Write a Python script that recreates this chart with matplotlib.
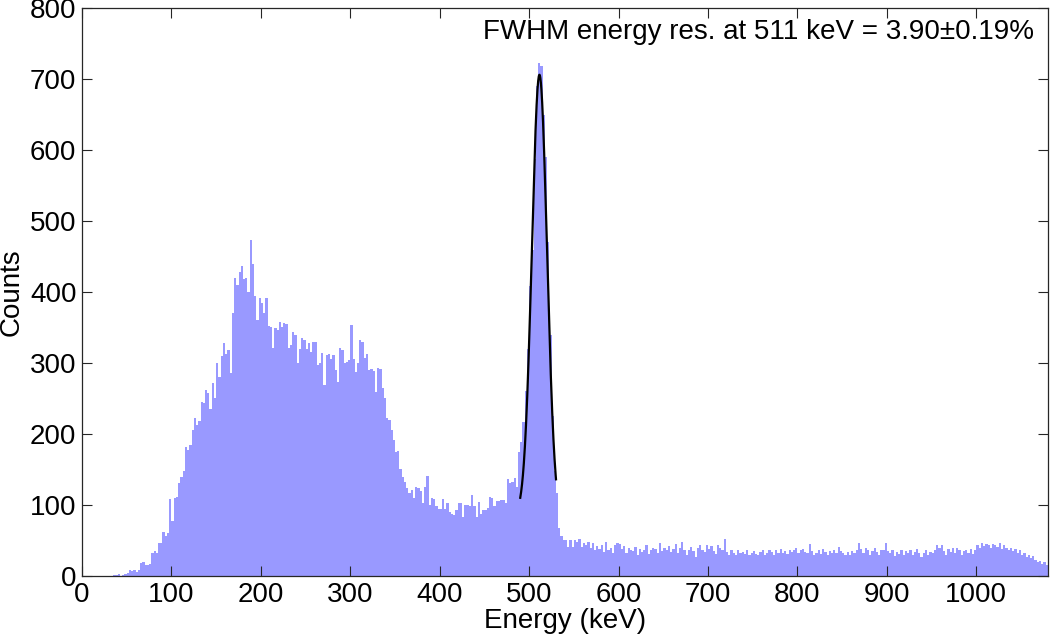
import numpy as np
import matplotlib.pyplot as plt

plt.rcParams['font.family'] = ['Liberation Sans', 'DejaVu Sans']

# histogram: 2.5 keV bins starting at 0 keV
bin_width = 2.5
counts_0_100 = [0, 0, 0, 0, 0, 0, 0, 0, 0, 0, 0, 0, 0, 0, 2, 1, 3, 0, 2, 3,
                4, 9, 7, 8, 6, 9, 18, 19, 16, 16, 17, 33, 35, 32, 46, 47, 62, 57, 60, 108]
counts_100_200 = [78, 110, 111, 131, 140, 148, 182, 178, 185, 206, 222, 212, 218, 245, 244, 262, 258, 235, 272, 250,
                  300, 280, 310, 328, 312, 318, 286, 370, 420, 410, 428, 436, 418, 420, 400, 473, 440, 395, 360, 392]
counts_200_300 = [385, 370, 392, 352, 350, 321, 349, 347, 358, 350, 356, 355, 321, 325, 344, 340, 300, 320, 335, 332,
                  320, 328, 315, 330, 329, 297, 300, 314, 269, 311, 312, 305, 311, 290, 273, 321, 318, 300, 302, 304]
counts_300_400 = [354, 305, 287, 300, 332, 330, 307, 313, 290, 292, 289, 259, 293, 292, 265, 250, 222, 220, 206, 191,
                  175, 176, 150, 140, 132, 124, 117, 121, 110, 125, 124, 120, 103, 125, 141, 100, 110, 108, 99, 94]
counts_400_500 = [94, 108, 94, 103, 90, 88, 86, 93, 103, 103, 83, 100, 100, 98, 114, 98, 83, 104, 88, 93,
                  93, 96, 111, 110, 99, 106, 106, 107, 107, 103, 136, 131, 133, 138, 125, 175, 189, 217, 260, 320]
counts_500_600 = [408, 459, 587, 690, 722, 718, 650, 590, 470, 340, 225, 148, 117, 68, 56, 51, 51, 41, 51, 41,
                  51, 48, 52, 41, 46, 44, 48, 40, 46, 36, 42, 38, 43, 34, 48, 36, 40, 32, 44, 47]
counts_600_700 = [45, 38, 42, 33, 40, 36, 35, 41, 30, 38, 34, 37, 44, 31, 36, 40, 38, 33, 46, 35,
                  39, 36, 42, 34, 38, 45, 33, 40, 48, 36, 30, 37, 41, 35, 27, 39, 43, 36, 34, 44]
counts_700_800 = [38, 42, 35, 31, 44, 39, 36, 52, 34, 30, 37, 33, 29, 36, 32, 34, 31, 36, 30, 33,
                  35, 31, 29, 34, 36, 30, 33, 37, 34, 29, 36, 33, 38, 32, 35, 31, 37, 34, 36, 39]
counts_800_900 = [33, 36, 38, 34, 32, 45, 35, 30, 33, 36, 31, 38, 34, 29, 35, 33, 37, 32, 41, 35,
                  33, 30, 34, 29, 35, 32, 37, 46, 38, 33, 39, 36, 30, 35, 40, 34, 29, 37, 36, 46]
counts_900_1000 = [35, 32, 36, 28, 34, 31, 37, 30, 35, 33, 36, 29, 34, 38, 32, 27, 33, 36, 30, 34,
                   33, 36, 43, 40, 44, 35, 30, 38, 34, 39, 32, 40, 36, 29, 35, 37, 33, 38, 31, 36]
counts_1000_1080 = [44, 40, 46, 42, 45, 43, 39, 45, 44, 41, 46, 38, 43, 40, 37, 39, 35, 38, 33, 36,
                    30, 32, 27, 29, 25, 28, 22, 20, 21, 17, 20, 16]

# gaussian + linear background fit of the photopeak
fit_amp = 624
fit_mean = 511.5
fit_sigma = 8.46
fit_bg = 82
fit_slope = -0.16
fit_range = (490, 530)

counts = np.array(counts_0_100 + counts_100_200 + counts_200_300 + counts_300_400 + counts_400_500
                  + counts_500_600 + counts_600_700 + counts_700_800 + counts_800_900
                  + counts_900_1000 + counts_1000_1080)
edges = np.arange(len(counts) + 1) * bin_width

fig = plt.figure(figsize=(10.5, 6.37), dpi=100)
ax = fig.add_axes([0.0781, 0.0958, 0.9199, 0.8916])

ax.stairs(counts, edges, fill=True, color='#9999ff', linewidth=0)

xf = np.linspace(fit_range[0], fit_range[1], 200)
yf = fit_amp * np.exp(-(xf - fit_mean) ** 2 / (2 * fit_sigma ** 2)) + fit_bg + fit_slope * (xf - fit_mean)
ax.plot(xf, yf, color='black', linewidth=1.6)

ax.set_xlim(0, 1080)
ax.set_ylim(0, 800)
ax.set_xticks(np.arange(0, 1001, 100))
ax.set_yticks(np.arange(0, 801, 100))
ax.tick_params(direction='in', length=7, width=0.8, top=True, right=True,
               labelsize=20, pad=4, colors='#262626', labelcolor='black')
for s in ax.spines.values():
    s.set_color('#262626')
    s.set_linewidth(0.9)

ax.set_xlabel('Energy (keV)', fontsize=20, labelpad=0)
ax.set_ylabel('Counts', fontsize=20, labelpad=4)

ax.text(0.9855, 0.958, 'FWHM energy res. at 511 keV = 3.90\u00b10.19%', transform=ax.transAxes,
        ha='right', va='center', fontsize=20)

fig.savefig('out.png', dpi=100)
